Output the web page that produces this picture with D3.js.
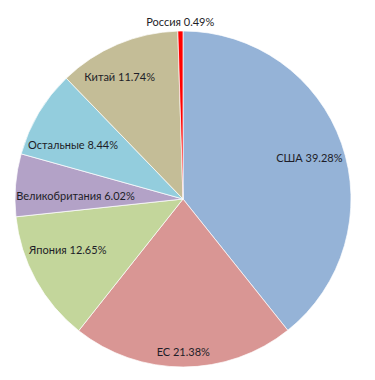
<!DOCTYPE html>
<html><head><meta charset="utf-8">
<script src="https://cdn.jsdelivr.net/npm/d3@7"></script>
<style>html,body{margin:0;padding:0;background:#fff;}</style>
</head><body>
<svg id="c" width="375" height="380"></svg>
<script>
const categories = ["США", "ЕС", "Япония", "Великобритания", "Остальные", "Китай", "Россия"];
const values = [39.28, 21.38, 12.65, 6.02, 8.44, 11.74, 0.49];
const colors = ["#95B3D7", "#D99694", "#C3D69B", "#B3A2C7", "#93CDDD", "#C4BD97", "#FF0000"];

// label layout (radius fraction, angle tweak in degrees)
const labelLayout = {
  "США": [0.79, 1.5], "ЕС": [0.91, 0], "Япония": [0.75, 5], "Великобритания": [0.64, -3],
  "Остальные": [0.73, -4.5], "Китай": [0.82, -4.5], "Россия": [1.05, 0]
};

const cx = 183, cy = 199, R = 168;
const svg = d3.select("#c");
const g = svg.append("g").attr("transform", `translate(${cx},${cy})`);
const data = categories.map((c, i) => ({cat: c, v: values[i], col: colors[i]}));
const pie = d3.pie().value(d => d.v).sort(null);
const arc = d3.arc().innerRadius(0).outerRadius(R);
const arcs = pie(data);

g.selectAll("path").data(arcs).join("path")
  .attr("d", arc)
  .attr("fill", d => d.data.col)
  .attr("stroke", "#fff")
  .attr("stroke-width", 0.7)
  .attr("stroke-linejoin", "round");

g.selectAll("text").data(arcs).join("text")
  .attr("transform", d => {
    const [f, da] = labelLayout[d.data.cat];
    const a = (d.startAngle + d.endAngle) / 2 + da * Math.PI / 180;
    const r = f * R;
    return `translate(${r * Math.sin(a)},${-r * Math.cos(a)})`;
  })
  .attr("text-anchor", "middle")
  .attr("dy", "0.35em")
  .attr("font-family", "Lato, 'Open Sans', sans-serif")
  .attr("font-size", 11)
  .attr("fill", "#1e1e28")
  .text(d => `${d.data.cat} ${d.data.v.toFixed(2)}%`);
</script>
</body></html>
